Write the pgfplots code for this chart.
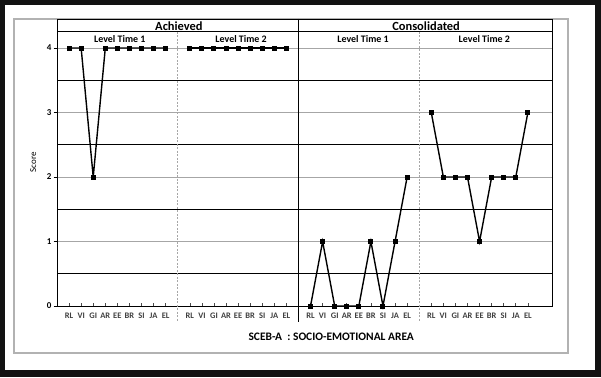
\documentclass[border=0pt]{standalone}
\usepackage{pgfplots}
\pgfplotsset{compat=1.18}
\usepackage{fontspec}
\setmainfont{Carlito}
\begin{document}
\begin{tikzpicture}[x=1bp,y=1bp]
\useasboundingbox (0,0) rectangle (601,377);
\fill[black!93] (0,0) rectangle (601,377);
\fill[white] (5,7) rectangle (595,372);
\draw[gray!60, line width=1.2bp] (14,24) rectangle (568,358);
\begin{axis}[
  at={(57bp,71bp)}, anchor=south west,
  scale only axis, width=495bp, height=287bp,
  xmin=0, xmax=41, ymin=0, ymax=4.45,
  clip=false,
  /pgf/number format/assume math mode=true,
  axis line style={black, line width=0.9bp},
  tick align=inside,
  xtick={1,2,3,4,5,6,7,8,9,11,12,13,14,15,16,17,18,19,21,22,23,24,25,26,27,28,29,31,32,33,34,35,36,37,38,39},
  xticklabels={RL,VI,GI,AR,EE,BR,SI,JA,EL,RL,VI,GI,AR,EE,BR,SI,JA,EL,RL,VI,GI,AR,EE,BR,SI,JA,EL,RL,VI,GI,AR,EE,BR,SI,JA,EL},
  xtick pos=bottom, ytick pos=left,
  major tick length=3.5bp,
  x tick style={black!70, line width=0.6bp},
  y tick style={black, line width=0.6bp, xshift=-3.5bp},
  ytick={0,1,2,3,4},
  minor ytick={0.5,1.5,2.5,3.5},
  minor tick length=0pt,
  ymajorgrids, yminorgrids,
  major grid style={gray!70, line width=0.9bp},
  minor grid style={black, line width=0.9bp},
  x tick label style={font=\fontsize{8.5}{9}\selectfont\bfseries, text=black!75, yshift=-3bp},
  y tick label style={font=\fontsize{9}{10}\selectfont\bfseries, xshift=-2bp},
  ylabel={Score},
  ylabel style={at={(axis description cs:-0.048,0.5)}, anchor=center, font=\fontsize{9}{10}\selectfont},
  xlabel={SCEB-A\ \ : SOCIO-EMOTIONAL AREA},
  xlabel style={at={(axis description cs:0.554,-0.108)}, anchor=center, font=\fontsize{11.5}{12}\selectfont\bfseries},
]
\draw[black, line width=0.9bp] (axis cs:0,4.25) -- (axis cs:41,4.25);
\draw[black, line width=0.9bp] (axis cs:20,4.45) -- (axis cs:20,-0.25);
\draw[gray!70, line width=1bp, dash pattern=on 2bp off 1.5bp] (axis cs:10,4.25) -- (axis cs:10,-0.25);
\draw[gray!70, line width=1bp, dash pattern=on 2bp off 1.5bp] (axis cs:30,4.25) -- (axis cs:30,-0.25);
\node[font=\fontsize{12.5}{13}\selectfont\bfseries] at (axis cs:10.1,4.34) {Achieved};
\node[font=\fontsize{12.5}{13}\selectfont\bfseries] at (axis cs:30.57,4.34) {Consolidated};
\node[font=\fontsize{10}{11}\selectfont\bfseries] at (axis cs:5.2,4.14) {Level Time 1};
\node[font=\fontsize{10}{11}\selectfont\bfseries] at (axis cs:15.25,4.14) {Level Time 2};
\node[font=\fontsize{10}{11}\selectfont\bfseries] at (axis cs:25.35,4.14) {Level Time 1};
\node[font=\fontsize{10}{11}\selectfont\bfseries] at (axis cs:35.4,4.14) {Level Time 2};
% Achieved, Level Time 1
\addplot[black, line width=1.4bp, mark=square*, mark size=1.8bp, mark options={solid, fill=black}] coordinates {(1,4) (2,4) (3,2) (4,4) (5,4) (6,4) (7,4) (8,4) (9,4)};
% Achieved, Level Time 2
\addplot[black, line width=1.4bp, mark=square*, mark size=1.8bp, mark options={solid, fill=black}] coordinates {(11,4) (12,4) (13,4) (14,4) (15,4) (16,4) (17,4) (18,4) (19,4)};
% Consolidated, Level Time 1
\addplot[black, line width=1.4bp, mark=square*, mark size=1.8bp, mark options={solid, fill=black}] coordinates {(21,0) (22,1) (23,0) (24,0) (25,0) (26,1) (27,0) (28,1) (29,2)};
% Consolidated, Level Time 2
\addplot[black, line width=1.4bp, mark=square*, mark size=1.8bp, mark options={solid, fill=black}] coordinates {(31,3) (32,2) (33,2) (34,2) (35,1) (36,2) (37,2) (38,2) (39,3)};
\end{axis}
\end{tikzpicture}
\end{document}
